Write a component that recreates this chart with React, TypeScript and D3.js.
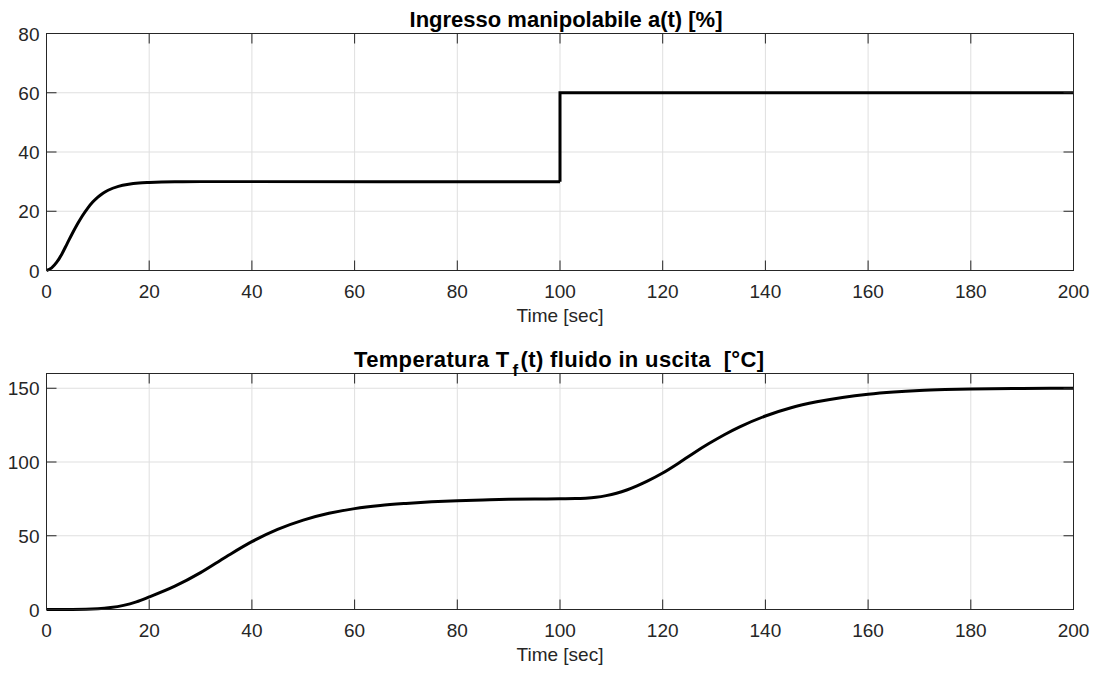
import * as d3 from "d3"
import React, { useEffect, useRef } from "react"

// a(t) [%] — smooth rise, then step at t=100
const timeA = [0, 1, 2, 3, 4, 5, 6, 7, 8, 9, 10, 11, 12, 14, 16, 18, 20, 25, 30, 100]
const valA = [0, 0.9, 2.8, 5.6, 9, 12.4, 15.6, 18.5, 21, 23.1, 24.8, 26.1, 27.1, 28.4, 29.1, 29.5, 29.7, 29.95, 30, 30]
const stepTime = [100, 100, 200]
const stepVal = [30, 60, 60]

// T_f(t) [°C]
const timeT = [0, 5, 10, 12.5, 15, 17.5, 20, 25, 30, 35, 40, 45, 50, 55, 60, 65, 70, 75, 80, 85, 90, 95, 100, 103, 105, 107, 109, 111, 113, 115, 117, 120, 123, 126, 129, 132, 135, 140, 145, 150, 155, 160, 165, 170, 175, 180, 190, 200]
const valT = [0, 0.05, 0.5, 1.3, 2.8, 5.2, 8.5, 15.8, 25, 35.8, 46, 54.3, 60.6, 65.2, 68.4, 70.5, 71.9, 73, 73.8, 74.3, 74.7, 74.9, 75.1, 75.2, 75.5, 76.1, 77.2, 78.8, 81, 83.8, 87, 92.5, 99, 106, 112.5, 118.5, 123.8, 131.2, 136.8, 140.8, 143.8, 146, 147.5, 148.5, 149.1, 149.5, 149.9, 150]

const xTicks = [0, 20, 40, 60, 80, 100, 120, 140, 160, 180, 200]
const yTicksA = [0, 20, 40, 60, 80]
const yTicksT = [0, 50, 100, 150]

const FONT = "'Liberation Sans', Arial, Helvetica, sans-serif"
const AXIS = "#262626"

const drawPanel = (svg, opts) => {
    const { top, bottom, left, right, yMax, yTicks, series, title } = opts
    const g = svg.append("g")
    const x = d3.scaleLinear().domain([0, 200]).range([left, right])
    const y = d3.scaleLinear().domain([0, yMax]).range([bottom, top])

    // grid
    g.selectAll(".gx").data(xTicks).join("line")
        .attr("x1", d => x(d)).attr("x2", d => x(d))
        .attr("y1", top).attr("y2", bottom)
        .attr("stroke", "#dfdfdf").attr("stroke-width", 1)
    g.selectAll(".gy").data(yTicks).join("line")
        .attr("x1", left).attr("x2", right)
        .attr("y1", d => y(d)).attr("y2", d => y(d))
        .attr("stroke", "#dfdfdf").attr("stroke-width", 1)

    // curves
    series.forEach(s => {
        const line = d3.line().x(d => x(d[0])).y(d => y(d[1])).curve(s.curve)
        g.append("path")
            .attr("d", line(d3.zip(s.t, s.v)))
            .attr("fill", "none")
            .attr("stroke", "#000")
            .attr("stroke-width", 3)
            .attr("stroke-linejoin", "miter")
    })

    // box
    g.append("rect")
        .attr("x", left).attr("y", top)
        .attr("width", right - left).attr("height", bottom - top)
        .attr("fill", "none").attr("stroke", AXIS).attr("stroke-width", 1)

    // ticks (inward, all sides)
    const tl = 10
    xTicks.forEach(d => {
        g.append("line").attr("x1", x(d)).attr("x2", x(d)).attr("y1", bottom).attr("y2", bottom - tl).attr("stroke", AXIS)
        g.append("line").attr("x1", x(d)).attr("x2", x(d)).attr("y1", top).attr("y2", top + tl).attr("stroke", AXIS)
    })
    yTicks.forEach(d => {
        g.append("line").attr("x1", left).attr("x2", left + tl).attr("y1", y(d)).attr("y2", y(d)).attr("stroke", AXIS)
        g.append("line").attr("x1", right).attr("x2", right - tl).attr("y1", y(d)).attr("y2", y(d)).attr("stroke", AXIS)
    })

    // tick labels
    g.selectAll(".xl").data(xTicks).join("text")
        .attr("x", d => x(d)).attr("y", bottom + 27)
        .attr("text-anchor", "middle")
        .attr("font-family", FONT).attr("font-size", 19).attr("fill", AXIS)
        .text(d => d)
    g.selectAll(".yl").data(yTicks).join("text")
        .attr("x", left - 7).attr("y", d => y(d) + 7)
        .attr("text-anchor", "end")
        .attr("font-family", FONT).attr("font-size", 19).attr("fill", AXIS)
        .text(d => d)

    // x label
    g.append("text")
        .attr("x", (left + right) / 2).attr("y", bottom + 51)
        .attr("text-anchor", "middle")
        .attr("font-family", FONT).attr("font-size", 19).attr("fill", AXIS)
        .text("Time [sec]")

    // title
    const t = g.append("text")
        .attr("x", (left + right) / 2 + 6).attr("y", top - 7)
        .attr("text-anchor", "middle")
        .attr("font-family", FONT).attr("font-size", 22).attr("font-weight", "bold").attr("fill", "#000")
    title(t)
}

const App = () => {
    const refSvg = useRef(null)

    useEffect(() => {
        document.body.style.margin = "0"
        const svg = d3.select(refSvg.current)
        svg.selectAll("*").remove()

        drawPanel(svg, {
            top: 33.5, bottom: 270.5, left: 46.5, right: 1073.5,
            yMax: 80, yTicks: yTicksA,
            series: [
                { t: timeA, v: valA, curve: d3.curveMonotoneX },
                { t: stepTime, v: stepVal, curve: d3.curveLinear },
            ],
            title: t => t.text("Ingresso manipolabile a(t) [%]"),
        })

        drawPanel(svg, {
            top: 373.5, bottom: 609.5, left: 46.5, right: 1073.5,
            yMax: 160, yTicks: yTicksT,
            series: [{ t: timeT, v: valT, curve: d3.curveMonotoneX }],
            title: t => {
                t.attr("xml:space", "preserve").style("white-space", "pre")
                t.attr("x", 559).attr("textLength", 410).attr("lengthAdjust", "spacing")
                t.append("tspan").text("Temperatura T")
                t.append("tspan").attr("font-size", 17).attr("dx", 3).attr("dy", 9).text("f")
                t.append("tspan").attr("dx", 2).attr("dy", -9).text("(t) fluido in uscita  [°C]")
            },
        })
    }, [])

    return (
        <svg ref={refSvg} width={1100} height={673} style={{ display: "block", background: "#fff" }}></svg>
    )
}

export default App
